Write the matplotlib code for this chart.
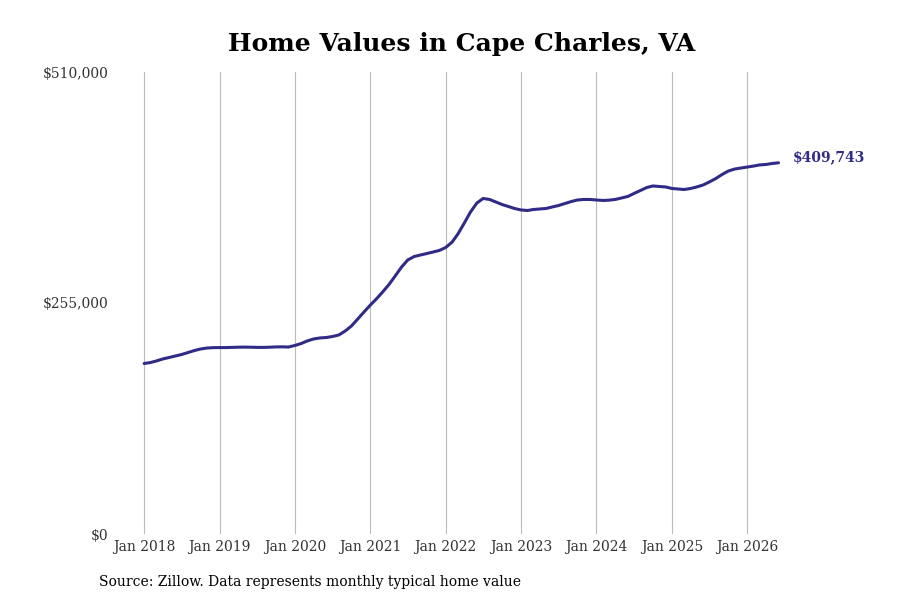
import numpy as np
import pandas as pd
import matplotlib
matplotlib.use("Agg")
from matplotlib import pyplot as plt
from matplotlib import ticker as ticker
import matplotlib.dates as mdates

plt.rcParams['font.family'] = ['DejaVu Serif']

# Monthly typical home value, Jan 2018 .. Jun 2026
start_month = "2018-01-01"
values = [
    188200, 189300, 191000, 193200, 194800, 196500, 198100, 200300, 202500, 204200, 205300, 205700,
    205800, 205800, 206000, 206200, 206300, 206200, 206000, 206000, 206200, 206500, 206600, 206400,
    208100, 210300, 213100, 215300, 216400, 216900, 218000, 219700, 224100, 229600, 237400, 245100,
    252800, 260000, 267100, 275400, 284800, 294700, 302500, 306300, 308000, 309600, 311300, 313000,
    316300, 322300, 331200, 343300, 355500, 365400, 370400, 369300, 366500, 363700, 361500, 359300,
    357700, 357100, 358200, 358800, 359300, 361000, 362600, 364800, 367000, 368700, 369300, 369300,
    368700, 368200, 368500, 369300, 370900, 372600, 375900, 379200, 382500, 384200, 383600, 383100,
    381400, 380800, 380300, 381400, 383100, 385300, 388600, 392400, 396900, 400700, 402900, 404000,
    405100, 406200, 407400, 407900, 409000, 409743,
]
dates = pd.date_range(start_month, periods=len(values), freq="MS")

y_ticks = [0, 255000, 510000]
x_tick_years = list(range(2018, 2027))

line_color = "#2f2b87"

fig = plt.figure(figsize=(9, 6), dpi=100)
ax = fig.add_axes([0.1283, 0.11, 0.775, 0.77])

ax.plot(dates, values, color=line_color, linewidth=2.2, solid_capstyle="round")

ax.set_ylim(0, 510000)
ax.set_xlim(pd.Timestamp("2017-08-15"), pd.Timestamp("2026-11-15"))

ax.set_yticks(y_ticks)
ax.yaxis.set_major_formatter(ticker.FuncFormatter(lambda v, p: f"${v:,.0f}"))
ax.set_xticks([pd.Timestamp(f"{y}-01-01") for y in x_tick_years])
ax.xaxis.set_major_formatter(mdates.DateFormatter("Jan %Y"))

ax.tick_params(axis="both", length=0, labelsize=10, labelcolor="#333333")
ax.tick_params(axis="y", pad=5)
ax.tick_params(axis="x", pad=4)
ax.grid(axis="x", color="#bbbbbb", linewidth=0.8)
ax.grid(axis="y", visible=False)
for s in ax.spines.values():
    s.set_visible(False)

ax.annotate(f"${values[-1]:,}", xy=(dates[-1], values[-1]), xytext=(10, 4),
            textcoords="offset points", color=line_color, fontsize=10,
            fontweight="bold", va="center", ha="left")

fig.text(0.513, 0.927, "Home Values in Cape Charles, VA", ha="center", va="center",
         fontsize=18, fontweight="bold")
fig.text(0.11, 0.03, "Source: Zillow. Data represents monthly typical home value",
         ha="left", va="center", fontsize=10)

fig.savefig("out.png", dpi=100)
